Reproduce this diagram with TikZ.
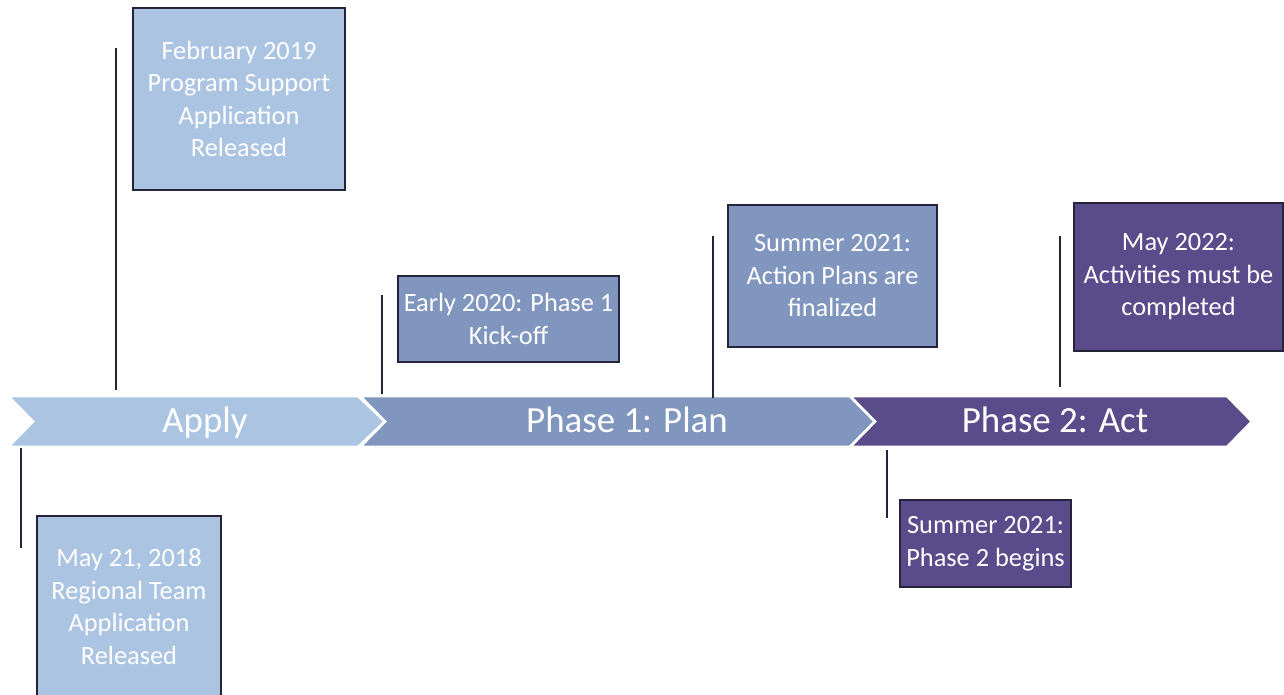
\documentclass[tikz,border=0pt]{standalone}
\usepackage{fontspec}
\setmainfont{Carlito}
\usepackage{xcolor}
\usetikzlibrary{positioning, calc}

\definecolor{applyblue}{HTML}{ABC4E2}
\definecolor{planblue}{HTML}{8096BE}
\definecolor{actpurple}{HTML}{5A4B8B}
\definecolor{tickline}{HTML}{25243A}

\begin{document}
\begin{tikzpicture}[x=0.02cm, y=-0.02cm,
    stage/.style={fill=#1, draw=white, line width=1.5pt, line join=miter},
    stagelabel/.style={text=white, anchor=base, font=\fontsize{21}{25}\selectfont},
    datebox/.style={draw=tickline, line width=1.3pt, inner sep=0pt, text=white,
        align=center, font=\fontsize{15}{18.5}\selectfont},
    tick/.style={draw=tickline, line width=1.4pt}]
\useasboundingbox (0,0) rectangle (1284,694);

% Stage chevrons
\path[stage=applyblue] (8,396) -- (358,396) -- (385,421.5) -- (358,447) -- (8,447) -- (33,421.5) -- cycle;
\path[stage=planblue] (360,396) -- (850,396) -- (875,421.5) -- (850,447) -- (360,447) -- (385,421.5) -- cycle;
\path[stage=actpurple] (850,396) -- (1227,396) -- (1252,421.5) -- (1227,447) -- (850,447) -- (875,421.5) -- cycle;
\node[stagelabel] (apply) at (205,432) {Apply};
\node[stagelabel] (plan) at (627,432) {Phase 1: Plan};
\node[stagelabel] (act) at (1055,432) {Phase 2: Act};

% Ticks
\coordinate (may18a) at (21,448);   \coordinate (may18b) at (21,548);
\coordinate (feb19a) at (116,48);   \coordinate (feb19b) at (116,390);
\coordinate (early20a) at (382,295); \coordinate (early20b) at (382,394);
\coordinate (sumplana) at (713,236); \coordinate (sumplanb) at (713,398);
\coordinate (sumacta) at (887,450);  \coordinate (sumactb) at (887,518);
\coordinate (may22a) at (1060,236);  \coordinate (may22b) at (1060,387);
\foreach \t in {may18, feb19, early20, sumplan, sumact, may22} {
    \draw[tick] (\t a) -- (\t b);
}

% Date boxes
\node[datebox, fill=applyblue, minimum width=4.24cm, minimum height=3.64cm] (feb19) at (239,99)
    {February 2019\\Program Support\\Application\\Released};
\node[datebox, fill=applyblue, minimum width=3.68cm, minimum height=3.62cm] (may18) at (129,606.5)
    {May 21, 2018\\Regional Team\\Application\\Released};
\node[datebox, fill=planblue, minimum width=4.42cm, minimum height=1.72cm] (early20) at (508.5,319)
    {Early 2020: Phase 1\\Kick-off};
\node[datebox, fill=planblue, minimum width=4.18cm, minimum height=2.84cm] (sumplan) at (832.5,276)
    {Summer 2021:\\Action Plans are\\finalized};
\node[datebox, fill=actpurple, minimum width=4.18cm, minimum height=2.96cm] (may22) at (1178.5,277)
    {May 2022:\\Activities must be\\completed};
\node[datebox, fill=actpurple, minimum width=3.42cm, minimum height=1.74cm] (sumact) at (985.5,543.5)
    {Summer 2021:\\Phase 2 begins};
\end{tikzpicture}
\end{document}
